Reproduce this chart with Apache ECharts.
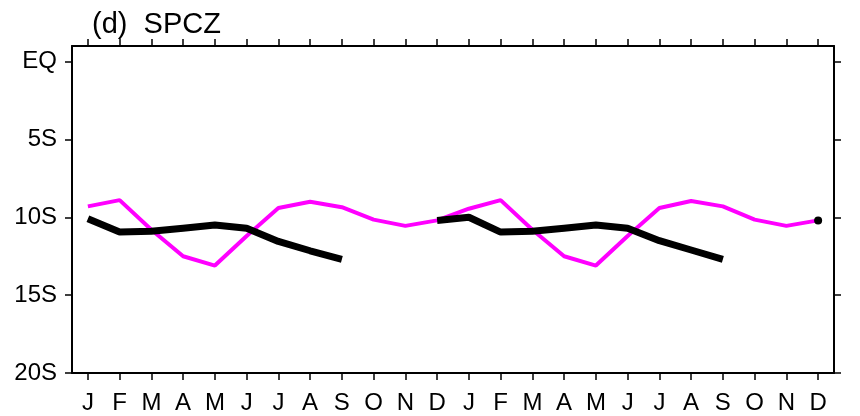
<!DOCTYPE html>
<html>
<head>
<meta charset="utf-8">
<script src="https://cdn.jsdelivr.net/npm/echarts@6/dist/echarts.min.js"></script>
<style>
  html, body { margin: 0; padding: 0; background: #fff; }
  #chart { width: 860px; height: 416px; }
</style>
</head>
<body>
<div id="chart"></div>
<script>
// Two years of months along the x axis
const months = ['J','F','M','A','M','J','J','A','S','O','N','D',
                'J','F','M','A','M','J','J','A','S','O','N','D'];

// Latitude (degrees, negative = south) of the SPCZ, climatology curve
const climLat = [-9.3, -8.9, -10.8, -12.5, -13.1, -11.2, -9.4, -9.0, -9.35, -10.15, -10.55, -10.2,
                 -9.45, -8.9, -10.8, -12.5, -13.1, -11.2, -9.4, -8.95, -9.3, -10.15, -10.55, -10.2];

// Event-year curve; gaps where no value is available
const eventLat = [-10.1, -10.95, -10.9, -10.7, -10.5, -10.7, -11.55, -12.15, -12.7, null, null, -10.2,
                  -10.0, -10.95, -10.9, -10.7, -10.5, -10.7, -11.5, -12.1, -12.7, null, null, -10.2];

// Latitude tick values and their labels
const latTicks = [-20, -15, -10, -5, 0];
const latLabels = { '-20': '20S', '-15': '15S', '-10': '10S', '-5': '5S', '0': 'EQ' };

// Points of the event curve with no neighbours are drawn as dots
const isolated = eventLat.map((v, i) => {
  if (v == null) return null;
  const prev = i > 0 ? eventLat[i - 1] : null;
  const next = i < eventLat.length - 1 ? eventLat[i + 1] : null;
  return (prev == null && next == null) ? v : null;
});

const font = '"Liberation Sans", Arial, Helvetica, sans-serif';
const chart = echarts.init(document.getElementById('chart'), null, { renderer: 'canvas' });

const axisLine = { show: true, onZero: false, lineStyle: { color: '#000', width: 2 } };
const tick = { show: true, inside: false, length: 7, lineStyle: { color: '#000', width: 1.5 } };

chart.setOption({
  animation: false,
  backgroundColor: '#fff',
  title: {
    text: '(d)  SPCZ',
    left: 87, top: 5,
    textStyle: { fontFamily: font, fontSize: 29, fontWeight: 'normal', color: '#000' }
  },
  grid: { left: 72, right: 26, top: 46, bottom: 43 },
  xAxis: [
    {
      type: 'category', data: months, boundaryGap: true, position: 'bottom',
      axisLine: axisLine,
      axisTick: Object.assign({ alignWithLabel: true }, tick),
      axisLabel: { fontFamily: font, fontSize: 24, color: '#000', margin: 18, interval: 0 },
      splitLine: { show: false }
    },
    {
      type: 'category', data: months, boundaryGap: true, position: 'top',
      axisLine: axisLine,
      axisTick: Object.assign({ alignWithLabel: true }, tick),
      axisLabel: { show: false },
      splitLine: { show: false }
    }
  ],
  yAxis: [
    {
      type: 'value', min: -20, max: 1, position: 'left',
      axisLine: axisLine,
      axisTick: Object.assign({ customValues: latTicks }, tick),
      axisLabel: {
        customValues: latTicks,
        fontFamily: font, fontSize: 24, color: '#000', margin: 15,
        formatter: v => latLabels[String(v)] || ''
      },
      splitLine: { show: false }
    },
    {
      type: 'value', min: -20, max: 1, position: 'right',
      axisLine: axisLine,
      axisTick: Object.assign({ customValues: latTicks }, tick),
      axisLabel: { show: false },
      splitLine: { show: false }
    }
  ],
  series: [
    {
      type: 'line', data: climLat, showSymbol: false, symbol: 'none',
      lineStyle: { color: '#ff00ff', width: 4 }, z: 2
    },
    {
      type: 'line', data: eventLat, showSymbol: false, symbol: 'none', connectNulls: false,
      lineStyle: { color: '#000', width: 7 }, z: 3
    },
    {
      type: 'scatter', data: isolated, symbol: 'circle', symbolSize: 8,
      itemStyle: { color: '#000', opacity: 1 }, z: 4
    }
  ]
});
</script>
</body>
</html>
